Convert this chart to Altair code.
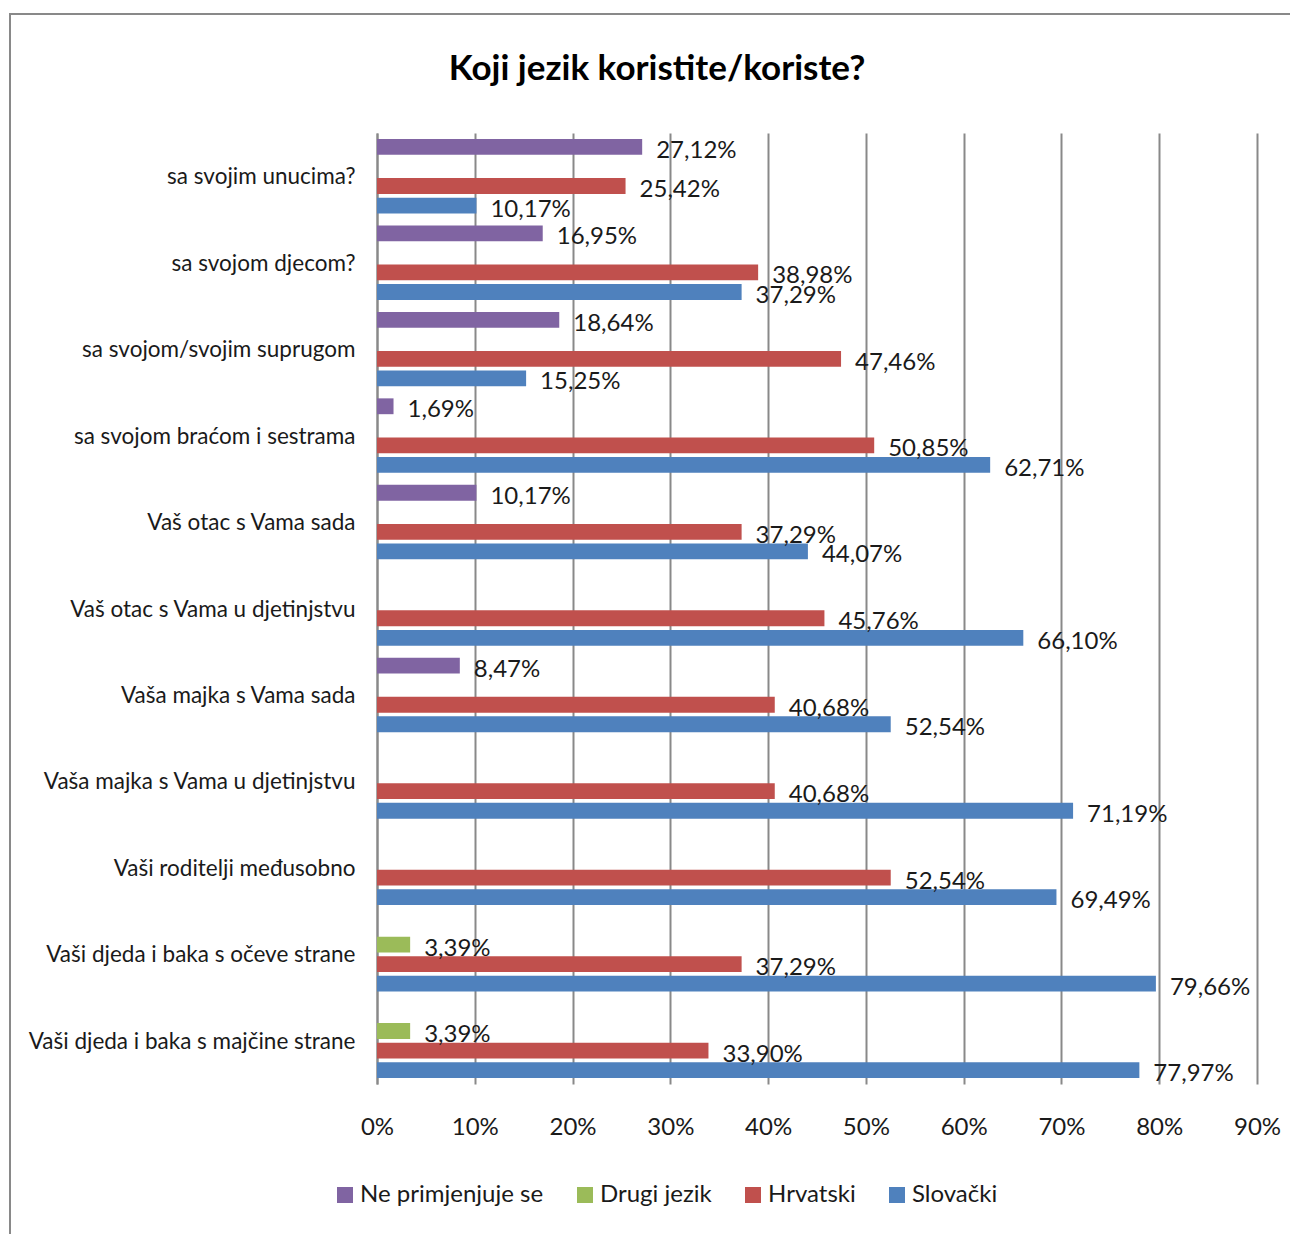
import altair as alt
import pandas as pd

categories = [
    "sa svojim unucima?",
    "sa svojom djecom?",
    "sa svojom/svojim suprugom",
    "sa svojom braćom i sestrama",
    "Vaš otac  s Vama sada",
    "Vaš otac s Vama u djetinjstvu",
    "Vaša majka s Vama sada",
    "Vaša majka s Vama u djetinjstvu",
    "Vaši roditelji međusobno",
    "Vaši djeda i baka s očeve strane",
    "Vaši djeda i baka s majčine strane",
]
series = ["Ne primjenjuje se", "Drugi jezik", "Hrvatski", "Slovački"]
colors = ["#8064A2", "#9BBB59", "#C0504D", "#4F81BD"]

ne_primjenjuje = [27.12, 16.95, 18.64, 1.69, 10.17, None, 8.47, None, None, None, None]
drugi_jezik = [None, None, None, None, None, None, None, None, None, 3.39, 3.39]
hrvatski = [25.42, 38.98, 47.46, 50.85, 37.29, 45.76, 40.68, 40.68, 52.54, 37.29, 33.90]
slovacki = [10.17, 37.29, 15.25, 62.71, 44.07, 66.10, 52.54, 71.19, 69.49, 79.66, 77.97]
x_ticks = [0, 10, 20, 30, 40, 50, 60, 70, 80, 90]

rows = []
for name, vals in zip(series, [ne_primjenjuje, drugi_jezik, hrvatski, slovacki]):
    for cat, v in zip(categories, vals):
        if v is None:
            continue
        rows.append({
            "category": cat,
            "series": name,
            "value": v,
            "label": f"{v:.2f}".replace(".", ",") + "%",
        })
df = pd.DataFrame(rows)

FONT = "Lato"
TXT = "#1a1a1a"
GRID = "#898989"
FS = 24

y_enc = alt.Y(
    "category:N",
    sort=categories,
    scale=alt.Scale(domain=categories, paddingInner=0, paddingOuter=0),
    axis=alt.Axis(
        title=None, labelFontSize=22.5, labelPadding=22, ticks=False,
        domainColor=GRID, domainWidth=2, labelColor=TXT, labelLimit=500,
        grid=False, labelFont=FONT, labelOffset=1,
    ),
)
yoff_enc = alt.YOffset(
    "series:N",
    sort=series,
    scale=alt.Scale(domain=series, paddingInner=0.19, paddingOuter=0.307),
)
x_enc = alt.X(
    "value:Q",
    scale=alt.Scale(domain=[0, 90], nice=False),
    axis=alt.Axis(
        values=x_ticks, labelExpr="datum.value + '%'", title=None,
        grid=True, gridColor=GRID, gridWidth=2, domain=False, ticks=False,
        labelFontSize=FS, labelPadding=31, labelColor=TXT, labelFont=FONT,
        labelFlush=False,
    ),
)

bars = alt.Chart(df).mark_bar().encode(
    x=x_enc,
    y=y_enc,
    yOffset=yoff_enc,
    color=alt.Color(
        "series:N",
        scale=alt.Scale(domain=series, range=colors),
        legend=alt.Legend(
            orient="none", legendX=-44, legendY=1050, direction="horizontal",
            title=None, symbolType="square", symbolSize=256, labelFontSize=FS,
            labelOffset=3, columnPadding=29, padding=0, symbolStrokeWidth=0,
            labelColor=TXT, labelLimit=500, labelFont=FONT,
        ),
    ),
)

labels = alt.Chart(df).mark_text(
    align="left", baseline="middle", dx=14, dy=4, fontSize=FS, color=TXT, font=FONT
).encode(
    x="value:Q",
    y=alt.Y("category:N", sort=categories),
    yOffset=alt.YOffset("series:N", sort=series),
    text="label:N",
)

frame = alt.Chart(alt.Data(values=[{"a": 1}])).mark_rect(
    filled=False, stroke=GRID, strokeWidth=2
).encode(
    x=alt.value(-367), y=alt.value(-119), x2=alt.value(3000), y2=alt.value(3000)
)

chart = alt.layer(frame, bars, labels).properties(
    width=880,
    height=951,
    title=alt.TitleParams(
        "Koji jezik koristite/koriste?", fontSize=35, fontWeight="bold",
        frame="group", anchor="middle", dx=-160, offset=-102,
        baseline="alphabetic", color="#000000", font=FONT,
    ),
    autosize=alt.AutoSizeParams(type="none"),
    padding={"left": 369, "top": 125, "right": 33, "bottom": 150},
).configure(font=FONT).configure_view(stroke=None)

chart.save("out.html", embed_options={"renderer": "svg", "actions": False})
